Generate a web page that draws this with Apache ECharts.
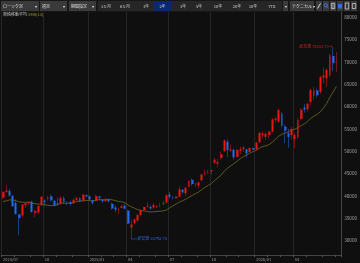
<!DOCTYPE html>
<html>
<head>
<meta charset="utf-8">
<script src="https://cdn.jsdelivr.net/npm/echarts@6/dist/echarts.min.js"></script>
<style>
  html, body { margin: 0; padding: 0; background: #0f0f0f; }
  #main { width: 360px; height: 263px; }
</style>
</head>
<body>
<div id="main"></div>
<script>
// weekly bars, dated by the last trading day of the week
const weeks = [
  '2024/07/05','2024/07/12','2024/07/19','2024/07/26','2024/08/02','2024/08/09','2024/08/16','2024/08/23','2024/08/30',
  '2024/09/06','2024/09/13','2024/09/20','2024/09/27','2024/10/04','2024/10/11','2024/10/18','2024/10/25','2024/11/01',
  '2024/11/08','2024/11/15','2024/11/22','2024/11/29','2024/12/06','2024/12/13','2024/12/20','2024/12/27','2024/12/30',
  '2025/01/10','2025/01/17','2025/01/24','2025/01/31','2025/02/07','2025/02/14','2025/02/21','2025/02/28','2025/03/07',
  '2025/03/14','2025/03/21','2025/03/28','2025/04/04','2025/04/11','2025/04/18','2025/04/25','2025/05/02','2025/05/09',
  '2025/05/16','2025/05/23','2025/05/30','2025/06/06','2025/06/13','2025/06/20','2025/06/27','2025/07/04','2025/07/11',
  '2025/07/18','2025/07/25','2025/08/01','2025/08/08','2025/08/15','2025/08/22','2025/08/29','2025/09/05','2025/09/12',
  '2025/09/19','2025/09/26','2025/10/03','2025/10/10','2025/10/17','2025/10/24','2025/10/31','2025/11/07','2025/11/14',
  '2025/11/21','2025/11/28','2025/12/05','2025/12/12','2025/12/19','2025/12/26','2025/12/30',
  '2026/01/09','2026/01/16','2026/01/23','2026/01/30','2026/02/06','2026/02/13','2026/02/20','2026/02/27','2026/03/06',
  '2026/03/13','2026/03/20','2026/03/27','2026/04/03','2026/04/10','2026/04/17','2026/04/24','2026/05/01','2026/05/08',
  '2026/05/15','2026/05/22','2026/05/29','2026/06/05','2026/06/12','2026/06/19','2026/06/26','2026/07/03'
];
const opens = [
  39600,40900,41100,40000,38400,35900,35600,37900,38300,38700,36200,36300,37900,38900,39300,39900,38900,38300,
  38200,39500,38300,38600,38300,39100,39500,38900,40200,39900,39000,38900,39900,39100,38800,39200,38200,37400,
  37000,37300,37800,36700,32900,33900,34500,35700,36800,37600,37500,37400,37500,37800,38200,38500,40300,39700,
  39500,39800,41400,40600,42000,43600,42600,42300,43500,44800,45300,45500,47400,47200,48500,50000,52100,50100,
  50300,48700,50100,50500,50400,49800,50700,
  50400,52000,53600,53200,53600,54400,57000,56600,58300,55500,54000,53600,52700,53200,57200,59800,59400,61000,
  62400,63600,63300,66500,66300,67000,71300,69900
];
const highs = [
  40960,42427,41500,40200,39200,35800,38100,38400,38700,38900,36900,37900,39830,39200,40000,40250,39000,39600,
  40000,39880,38800,38900,39500,39850,39700,40400,40300,40100,39000,40280,39900,39300,39600,39400,38500,37800,
  37300,38000,38200,36800,34700,34900,35900,36900,37600,38500,37900,38400,37900,38500,38900,40300,40850,39900,
  39900,42065,41500,42000,43450,43900,42900,43100,44900,45852,45800,45800,48600,48300,49900,52600,52600,51500,
  50600,50500,51000,51100,50500,50800,50800,
  52000,54300,54500,54200,54600,57400,57600,59500,58800,56000,55000,55400,54000,57400,59700,60600,60900,64000,
  64300,64000,66900,68800,68500,71800,72831.73,72200
];
const lows = [
  39300,40600,39900,37600,35880,31156,35300,37300,37900,36200,35250,35900,37700,37650,38900,38700,37700,38000,
  38100,38300,37900,37800,38300,38900,38600,38800,39800,38900,38000,38800,38900,38400,38700,38500,36900,36300,
  35900,37200,37000,33700,30792.74,33600,34200,35400,36600,37400,36900,37100,37300,37500,37900,38300,39400,39200,
  39300,39700,40500,39900,41900,42300,42000,41700,43300,44500,44900,44700,47200,46500,48100,49900,48700,49900,
  48100,48600,49300,49900,48600,49800,50300,
  50200,51800,52900,52600,52900,54200,56400,56400,55300,51800,50800,52600,50700,52800,56800,58600,58900,60300,
  61500,62000,62800,65200,64400,66600,67900,67700
];
const closes = [
  40912,41190,40063,37667,35909,35025,38062,38364,38647,36391,36581,37723,39829,38635,39605,38981,37913,38053,
  39500,38642,38283,38208,39091,39470,38701,40281,39894,39190,38451,39931,39572,38787,39149,38776,37155,36887,
  37053,37677,37120,33780,33585,34730,35705,36831,37503,37753,37160,37965,37741,37834,38403,40150,39810,39569,
  39819,41456,40800,41820,43378,42633,42718,43018,44768,45045,45355,45769,48088,47582,49299,52411,50276,50376,
  48625,50253,50491,50836,49507,50750,50339,
  51900,54100,54000,53900,54400,57100,57300,59200,55700,54600,53200,55000,53600,57000,59300,59300,60600,63700,
  63600,62500,66600,67000,68200,71500,69700,70000
];
// closes of the 12 weeks before the first bar, only used to seed SMA(13)
const priorCloses = [39523,37068,37934,38236,38229,38787,38646,38487,38683,38814,38596,39583];
const maPeriod = 13;
const yTicks = [30000,35000,40000,45000,50000,55000,60000,65000,70000,75000,80000];

const upColor = '#ee1414', downColor = '#1d6cf2';
const upWick = '#761515', downWick = '#1c3b84';
const FONT = '"Noto Sans CJK JP", sans-serif';

const allCloses = priorCloses.concat(closes);
const sma = closes.map((c, i) => {
  const end = i + priorCloses.length + 1;
  const win = allCloses.slice(end - maPeriod, end);
  return +(win.reduce((a, b) => a + b, 0) / maPeriod).toFixed(2);
});

const ohlc = opens.map((o, i) => [o, closes[i], lows[i], highs[i]]);
const bodies = opens.map((o, i) => [o, closes[i], Math.min(o, closes[i]), Math.max(o, closes[i])]);

const monthOf = d => (d || '').slice(5, 7);
const isMonthStart = i => !!weeks[i] && (i === 0 || monthOf(weeks[i]) !== monthOf(weeks[i - 1]));
// quarter gridlines and labels; the final July has only a tick
const isQuarterStart = i => isMonthStart(i) && ['01','04','07','10'].includes(monthOf(weeks[i])) && i < weeks.length - 1;

const chart = echarts.init(document.getElementById('main'), null, { renderer: 'canvas' });

function toolbar() {
  const g = [];
  g.push({ type: 'rect', shape: { x: 0, y: 0, width: 360, height: 12 }, style: { fill: '#171717' }, silent: true });
  const boxes = [[1, 38, 'ローソク足'], [40, 27, '週足'], [69, 27, '期間指定']];
  boxes.forEach(([x, w, t]) => {
    g.push({ type: 'rect', shape: { x: x, y: 1, width: w, height: 10 }, style: { fill: '#3a3a3a' }, silent: true });
    g.push({ type: 'text', x: x + 2, y: 6, style: { text: t, fill: '#e0e0e0', font: '4px ' + FONT, verticalAlign: 'middle' }, silent: true });
    g.push({ type: 'text', x: x + w - 3, y: 6, style: { text: '▾', fill: '#e0e0e0', font: '4px ' + FONT, align: 'center', verticalAlign: 'middle' }, silent: true });
  });
  g.push({ type: 'rect', shape: { x: 98, y: 1, width: 184, height: 10 }, style: { fill: '#262626' }, silent: true });
  g.push({ type: 'rect', shape: { x: 154, y: 1, width: 17, height: 10 }, style: { fill: '#0b2673' }, silent: true });
  const periods = [[106, '3ヵ月'], [125, '6ヵ月'], [146, '1年'], [162.5, '2年'], [183, '3年'], [199, '5年'], [218, '10年'], [237, '20年'], [253, '30年'], [272, 'YTD']];
  periods.forEach(([x, t]) => {
    g.push({ type: 'text', x: x, y: 6, style: { text: t, fill: '#cfcfcf', font: '4px ' + FONT, align: 'center', verticalAlign: 'middle' }, silent: true });
  });
  g.push({ type: 'rect', shape: { x: 283, y: 1, width: 5, height: 10 }, style: { fill: '#3a3a3a' }, silent: true });
  g.push({ type: 'text', x: 285.5, y: 6, style: { text: '▾', fill: '#e0e0e0', font: '4px ' + FONT, align: 'center', verticalAlign: 'middle' }, silent: true });
  g.push({ type: 'rect', shape: { x: 290, y: 1, width: 24, height: 10 }, style: { fill: '#3a3a3a' }, silent: true });
  g.push({ type: 'text', x: 292, y: 6, style: { text: 'テクニカル ▾', fill: '#e0e0e0', font: '4px ' + FONT, verticalAlign: 'middle' }, silent: true });
  // tool icons
  [316, 323, 330, 337, 344, 351].forEach(x => g.push({ type: 'rect', shape: { x: x, y: 1, width: 6, height: 10 }, style: { fill: '#3a3a3a' }, silent: true }));
  g.push({ type: 'line', shape: { x1: 317.5, y1: 8.5, x2: 320.5, y2: 3.5 }, style: { stroke: '#ddd', lineWidth: 1 }, silent: true });
  g.push({ type: 'circle', shape: { cx: 325.8, cy: 5.3, r: 1.6 }, style: { stroke: '#3d7cff', fill: null, lineWidth: 0.9 }, silent: true });
  g.push({ type: 'line', shape: { x1: 327, y1: 6.6, x2: 328.3, y2: 8.3 }, style: { stroke: '#3d7cff', lineWidth: 0.9 }, silent: true });
  g.push({ type: 'rect', shape: { x: 331.3, y: 3.3, width: 3.4, height: 5.4 }, style: { stroke: '#ddd', fill: null, lineWidth: 0.7 }, silent: true });
  g.push({ type: 'line', shape: { x1: 333, y1: 3.3, x2: 333, y2: 8.7 }, style: { stroke: '#ddd', lineWidth: 0.6 }, silent: true });
  g.push({ type: 'rect', shape: { x: 338, y: 4, width: 4, height: 4.5 }, style: { fill: '#2f6ee8' }, silent: true });
  g.push({ type: 'rect', shape: { x: 345.3, y: 3, width: 3.4, height: 6 }, style: { stroke: '#ddd', fill: null, lineWidth: 0.7 }, silent: true });
  g.push({ type: 'rect', shape: { x: 352.3, y: 3.5, width: 3.4, height: 5 }, style: { stroke: '#ddd', fill: null, lineWidth: 0.7 }, silent: true });
  // legend
  g.push({ type: 'text', x: 3, y: 14.3, style: { text: '単純移動平均', fill: '#c8c8c8', font: '4px ' + FONT, verticalAlign: 'middle' }, silent: true });
  g.push({ type: 'text', x: 28, y: 14.3, style: { text: 'SMA(13)', fill: '#a9a226', font: '4px ' + FONT, verticalAlign: 'middle' }, silent: true });
  return g;
}

chart.setOption({
  backgroundColor: '#0f0f0f',
  animation: false,
  textStyle: { fontFamily: FONT },
  grid: { left: 1.5, right: 17, top: 12, bottom: 8 },
  xAxis: {
    type: 'category',
    data: weeks.concat(['']),
    boundaryGap: true,
    axisLine: { lineStyle: { color: '#454545', width: 1 } },
    axisTick: { show: true, alignWithLabel: false, length: 2, interval: i => isMonthStart(i), lineStyle: { color: '#555' } },
    axisLabel: {
      interval: i => isQuarterStart(i),
      align: 'left',
      margin: 2,
      fontSize: 4,
      color: '#9a9a9a',
      formatter: (v, i) => (i === 0 || monthOf(v) === '01') ? v.slice(0, 7) : monthOf(v)
    },
    splitLine: { show: true, interval: i => isQuarterStart(i), lineStyle: { color: '#262626', width: 1 } }
  },
  yAxis: {
    type: 'value',
    position: 'right',
    min: 26757,
    max: 81156,
    splitNumber: 10,
    minInterval: 5000,
    maxInterval: 5000,
    axisLine: { show: true, lineStyle: { color: '#454545' } },
    axisTick: { show: false },
    splitLine: { show: false },
    axisLabel: {
      showMinLabel: false,
      showMaxLabel: false,
      margin: 3,
      fontSize: 4.6,
      color: '#a0a0a0',
      formatter: v => yTicks.includes(v) ? String(v) : ''
    }
  },
  series: [
    {
      name: 'wick',
      type: 'candlestick',
      data: ohlc,
      barWidth: 1,
      silent: true,
      itemStyle: { color: upWick, color0: downWick, borderColor: upWick, borderColor0: downWick, borderWidth: 1 },
      z: 1
    },
    {
      name: 'body',
      type: 'candlestick',
      data: bodies,
      barWidth: 2.4,
      silent: true,
      itemStyle: { color: upColor, color0: downColor, borderColor: upColor, borderColor0: downColor, borderWidth: 0 },
      z: 3
    },
    {
      name: 'SMA(13)',
      type: 'line',
      data: sma,
      symbol: 'none',
      silent: true,
      lineStyle: { color: '#5c5a1e', width: 1 },
      z: 2
    }
  ],
  graphic: toolbar()
});

// high / low annotations
const hiVal = Math.max(...highs), hiIdx = highs.indexOf(hiVal);
const loVal = Math.min(...lows), loIdx = lows.indexOf(loVal);
const hp = chart.convertToPixel({ seriesIndex: 0 }, [hiIdx, hiVal]);
const lp = chart.convertToPixel({ seriesIndex: 0 }, [loIdx, loVal]);
const extra = toolbar();
extra.push({ type: 'polyline', shape: { points: [[hp[0] - 4, hp[1] - 2.8], [hp[0] - 1, hp[1] - 2.8], [hp[0], hp[1]]] }, style: { stroke: '#b82424', lineWidth: 0.6, fill: null }, silent: true });
extra.push({ type: 'text', x: hp[0] - 4.5, y: hp[1] - 2.8, style: { text: '最高値 ' + hiVal.toFixed(2), fill: '#c42424', font: '4px ' + FONT, align: 'right', verticalAlign: 'middle' }, silent: true });
extra.push({ type: 'polyline', shape: { points: [[lp[0], lp[1]], [lp[0], lp[1] + 2], [lp[0] + 5.5, lp[1] + 2]] }, style: { stroke: '#2a5fd0', lineWidth: 0.6, fill: null }, silent: true });
extra.push({ type: 'text', x: lp[0] + 6, y: lp[1] + 2, style: { text: '最安値 ' + loVal.toFixed(2), fill: '#2f68de', font: '4px ' + FONT, verticalAlign: 'middle' }, silent: true });
chart.setOption({ graphic: extra }, { replaceMerge: ['graphic'] });
</script>
</body>
</html>
